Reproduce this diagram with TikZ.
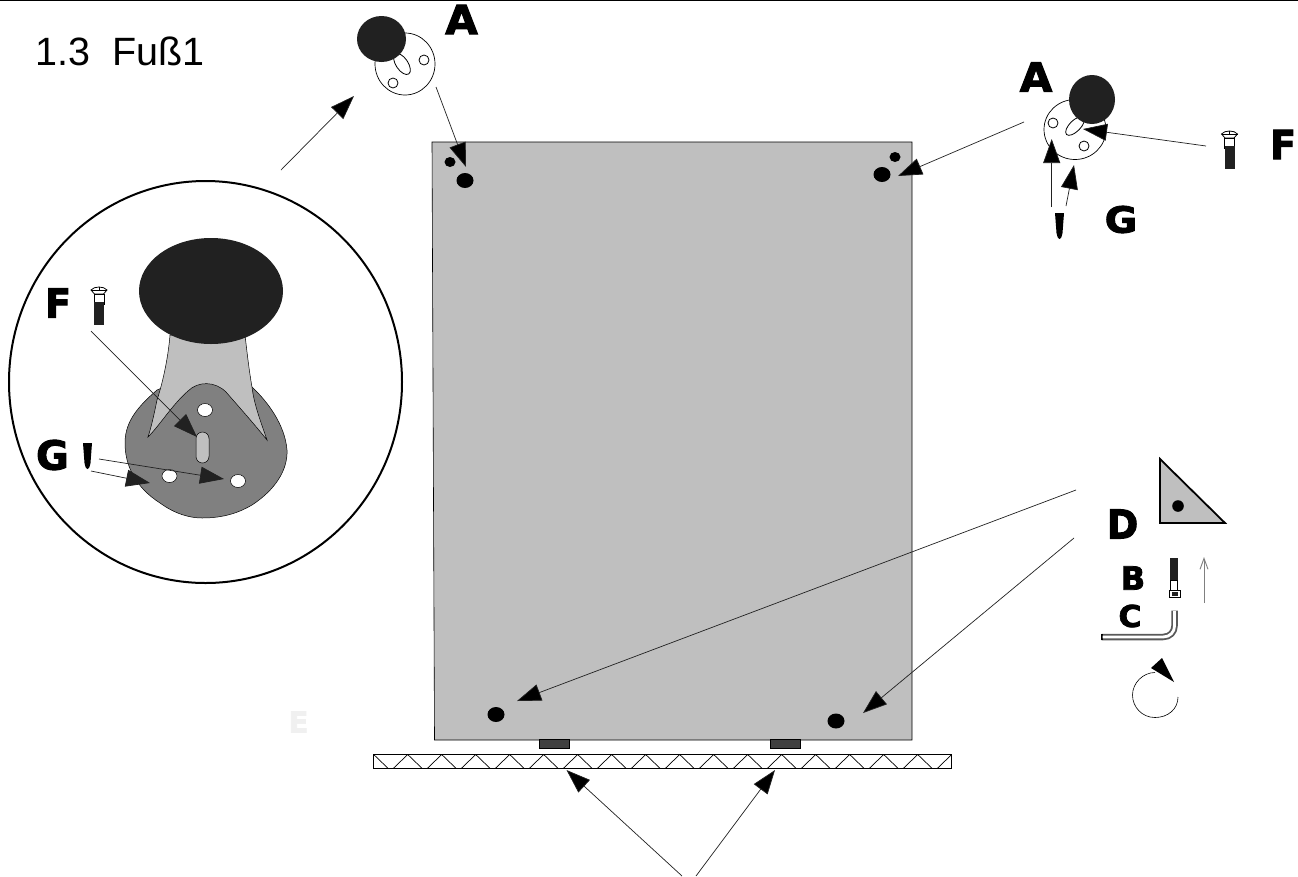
\documentclass[tikz,border=0pt]{standalone}
\usepackage{fontspec}
\usetikzlibrary{arrows.meta}
\setmainfont{Liberation Sans}
\newfontfamily\blk[FakeBold=2.5]{DejaVu Sans Bold}
\definecolor{panel}{gray}{0.75}
\definecolor{ink}{gray}{0.13}
\definecolor{plate}{gray}{0.5}
\definecolor{footc}{gray}{0.25}
\tikzset{
  x=1pt,y=-1pt,
  thinline/.style={line width=0.6pt,draw=black},
  pointer/.style={line width=0.7pt,draw=ink,-{Triangle[length=24pt,width=17pt,fill=black]}},
  pointerdark/.style={line width=0.7pt,draw=ink,-{Triangle[length=24pt,width=17pt,fill=ink]}},
  heavy/.style={inner sep=0pt,text=black},
  outl/.style={line width=0.8pt,draw=black},
}
\newcommand{\biglabel}[6]{\node[heavy,font=\blk\fontsize{#4}{#4}\selectfont] (#1) at (#2,#3) {\scalebox{#6}[1]{#5}};}
\newcommand{\flatscrew}[2]{\begin{scope}[shift={(#1,#2)}]
  \draw[outl,fill=white] (-8,4) .. controls (-5,0) and (5,0) .. (8,4) -- (4.5,8) -- (-4.5,8) -- cycle;
  \draw[outl] (-8,4) -- (8,4) (0,0.8) -- (0,4);
  \draw[outl,fill=white] (-5,8) rectangle (5,18);
  \fill[ink] (-5,16) rectangle (5,39);
\end{scope}}
\newcommand{\pin}[2]{\fill[black,shift={(#1,#2)}] (-4.5,0) -- (4.5,0) -- (3,20) .. controls (2,25) and (1,26) .. (0,26) .. controls (-1,26) and (-2,25) .. (-3,20) -- cycle;}
\begin{document}
\begin{tikzpicture}
\useasboundingbox (0,0) rectangle (1298,876);
\fill[white] (0,0) rectangle (1298,876);
\draw[black,line width=1.5pt] (0,0.6) -- (1298,0.6);
\node[anchor=base west,inner sep=0pt,font=\fontsize{39.5}{39.5}\selectfont] (title) at (35,65) {1.3\ \ Fuß1};

% cabinet panel
\draw[fill=panel,thinline] (432,142) -- (912,142) -- (912,740) -- (434.5,740) -- cycle;
\fill[black] (450,162) ellipse [x radius=5.5,y radius=5];
\fill[black] (465,180.5) ellipse [x radius=8.5,y radius=7.5];
\fill[black] (895,157) ellipse [x radius=5.5,y radius=5];
\fill[black] (882,174.5) ellipse [x radius=8.5,y radius=7.5];
\fill[black] (496,714.5) ellipse [x radius=8.5,y radius=7.5];
\fill[black] (836,721) ellipse [x radius=8.5,y radius=7.5];
\draw[fill=footc,thinline] (539,739) rectangle (569,748);
\draw[fill=footc,thinline] (770,739) rectangle (800,748);

% floor board
\draw[fill=white,line width=0.8pt,draw=black] (373,754.5) rectangle (951.5,768.5);
\begin{scope}
\clip (373,754.5) rectangle (951.5,768.5);
\foreach \k in {0,...,17}{
  \draw[line width=0.7pt,black] ({373.7+34*\k-14.5},768.5) -- ({373.7+34*\k},754.5) -- ({373.7+34*\k+14.5},768.5);
}
\end{scope}

% detail circle
\draw[line width=2pt,black] (205.5,382) ellipse [x radius=196.5,y radius=201];
\draw[line width=0.5pt,draw=black,fill=plate] (157,390) .. controls (140,405) and (125,420) .. (125,443)
  .. controls (125,465) and (135,487) .. (160,503)
  .. controls (175,514) and (190,518) .. (202,518)
  .. controls (225,518) and (240,512) .. (252,505)
  .. controls (275,490) and (288,470) .. (287,450)
  .. controls (285,425) and (268,402) .. (252,387) -- (205,370) -- cycle;
\draw[draw=black,line width=0.5pt,fill=panel] (170,335) .. controls (168,360) and (162,385) .. (157,400)
  .. controls (154,415) and (151,428) .. (148,437)
  .. controls (160,425) and (172,405) .. (188,391)
  .. controls (198,381) and (215,381) .. (226,392)
  .. controls (240,408) and (255,425) .. (267,440)
  .. controls (262,425) and (254,405) .. (252,387)
  .. controls (249,370) and (247,352) .. (245,335) -- cycle;
\fill[ink] (211,291) ellipse [x radius=72,y radius=53];
\draw[line width=0.5pt,draw=black,fill=white] (205,410) ellipse [x radius=7.5,y radius=6.5];
\draw[line width=0.5pt,draw=black,fill=white] (169.5,476) ellipse [x radius=7.5,y radius=6.5];
\draw[line width=0.5pt,draw=black,fill=white] (238,481) ellipse [x radius=7.5,y radius=6.5];
\draw[line width=0.5pt,draw=black,fill=panel,rounded corners=6.5pt] (196,432) rectangle (209,463);
\flatscrew{99}{286}
\pin{87.5}{443}

% small plate, top
\draw[line width=0.7pt,draw=black,fill=white] (405,64) ellipse [x radius=30,y radius=31];
\draw[outl,rotate around={34:(402,64)}] (402,64) ellipse [x radius=6,y radius=12];
\draw[outl,fill=white] (424,60) circle [radius=5];
\draw[outl,fill=white] (393,83) circle [radius=5];
\fill[ink] (381.5,39) ellipse [x radius=24.5,y radius=23];

% small plate, right
\draw[line width=0.7pt,draw=black,fill=white] (1075,129.5) ellipse [x radius=31,y radius=30];
\draw[outl,rotate around={-45:(1075,126)}] (1075,126) ellipse [x radius=5.5,y radius=12];
\draw[outl,fill=white] (1053,123) circle [radius=5];
\draw[outl,fill=white] (1084,146) circle [radius=5];
\fill[ink] (1092,99.5) ellipse [x radius=23,y radius=24.5];
\flatscrew{1229.5}{130}
\pin{1059.5}{213}

% triangle bracket
\draw[fill=panel,draw=black,line width=1.8pt,line join=miter] (1160,459) -- (1160,523) -- (1225,523) -- cycle;
\fill[black] (1178,506) circle [radius=5.8];

% bolt B
\fill[ink] (1170,558) rectangle (1178,581);
\draw[outl,fill=white] (1170.5,580) rectangle (1177.5,590);
\draw[outl,fill=white] (1169.5,590) rectangle (1180.5,597);
\fill[ink] (1172,592) rectangle (1178,596);

% hex key C
\draw[black!65,line width=6.5pt,line join=round] (1101.5,637) -- (1163,637) .. controls (1170,637) and (1174.5,632) .. (1174.5,626) -- (1174.5,610.5);
\draw[black,line width=1.6pt] (1101.8,634) -- (1101.8,640);
\draw[white,line width=2.8pt] (1102.5,637) -- (1163,637) .. controls (1170,637) and (1174.5,632) .. (1174.5,626) -- (1174.5,611);

% rotate symbol
\coordinate (turnstart) at (1178,697);
\draw[line width=0.6pt,black] (turnstart) .. controls (1178,709) and (1168,717.5) .. (1155,717.5)
  .. controls (1142,717.5) and (1132.5,707) .. (1132.5,695)
  .. controls (1132.5,683) and (1143,672.5) .. (1155,672.5);
\fill[black] (1162,658) -- (1174,682) -- (1151,668) -- cycle;

% connectors
\coordinate (detailOut) at (281,170);
\coordinate (plateTop) at (354,96);
\draw[pointer] (detailOut) -- (plateTop);
\coordinate (plateTopOut) at (436,87);
\coordinate (holeTL) at (466,167);
\draw[pointer] (plateTopOut) -- (holeTL);
\coordinate (plateRightOut) at (1024,122);
\coordinate (holeTR) at (898,176);
\draw[pointer] (plateRightOut) -- (holeTR);
\coordinate (screwRightOut) at (1206,146);
\coordinate (slotRight) at (1083,129);
\draw[pointer] (screwRightOut) -- (slotRight);
\coordinate (pinRightA) at (1051.7,207);
\coordinate (holeRightA) at (1051.7,139);
\draw[pointer] (pinRightA) -- (holeRightA);
\coordinate (pinRightB) at (1066,206);
\coordinate (holeRightB) at (1074,165);
\draw[pointer] (pinRightB) -- (holeRightB);
\coordinate (bracketA) at (1076,490);
\coordinate (holeBL) at (517,701);
\draw[pointer] (bracketA) -- (holeBL);
\coordinate (bracketB) at (1074,538);
\coordinate (holeBR) at (863,713);
\draw[pointer] (bracketB) -- (holeBR);
\coordinate (floorA) at (682,876);
\coordinate (boardA) at (566.5,770);
\draw[pointer] (floorA) -- (boardA);
\coordinate (floorB) at (696,876);
\coordinate (boardB) at (775,770);
\draw[pointer] (floorB) -- (boardB);
\coordinate (screwBig) at (91,331);
\coordinate (slotBig) at (197,437);
\draw[pointerdark] (screwBig) -- (slotBig);
\coordinate (pinBigA) at (99,459);
\coordinate (holeBigA) at (224,479);
\draw[pointerdark] (pinBigA) -- (holeBigA);
\coordinate (pinBigB) at (91,471);
\coordinate (holeBigB) at (150,483);
\draw[pointerdark] (pinBigB) -- (holeBigB);
\coordinate (boltFrom) at (1204,603);
\coordinate (boltTo) at (1204,557);
\draw[gray,line width=0.9pt,-{Straight Barb[length=11pt,width=8pt]}] (boltFrom) -- (boltTo);

% labels
\biglabel{lAtop}{461.5}{19.5}{40}{A}{1.05}
\biglabel{lAright}{1036}{77}{40}{A}{1.05}
\biglabel{lFright}{1283}{144.5}{40}{F}{0.95}
\biglabel{lGright}{1121}{219.5}{36}{G}{1.1}
\biglabel{lD}{1122.5}{524}{40}{D}{0.95}
\biglabel{lB}{1133}{578}{32}{B}{1}
\biglabel{lC}{1130}{616}{30}{C}{1.05}
\biglabel{lFbig}{58}{303}{40}{F}{0.95}
\biglabel{lGbig}{52.5}{455}{40}{G}{1}
\node[heavy,text=black!6,font=\blk\fontsize{29}{29}\selectfont] (lE) at (298.5,722) {E};
\end{tikzpicture}
\end{document}
